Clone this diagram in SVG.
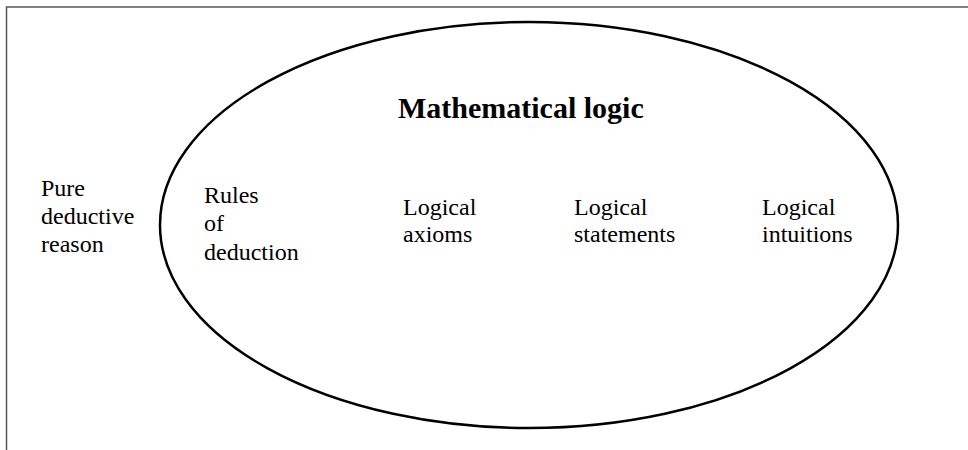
<svg xmlns="http://www.w3.org/2000/svg" width="968" height="450" viewBox="0 0 968 450">
<style>
.t{font-family:"Liberation Serif","Times New Roman",serif;font-size:24px;fill:#000}
.b{font-weight:bold;font-size:30px}
</style>
<rect width="968" height="450" fill="#fff"/>
<path d="M6.5,450 V7 H968" fill="none" stroke="#555" stroke-width="1.5"/>
<g id="mathematical-logic">
<ellipse cx="529" cy="225" rx="369" ry="203" fill="none" stroke="#000" stroke-width="2.5"/>
<text class="t b" x="398" y="118">Mathematical logic</text>
</g>
<g id="pure-deductive-reason">
<text class="t" x="41" y="196">Pure</text>
<text class="t" x="41" y="224">deductive</text>
<text class="t" x="41" y="252">reason</text>
</g>
<g id="rules-of-deduction">
<text class="t" x="204" y="203">Rules</text>
<text class="t" x="204" y="231">of</text>
<text class="t" x="204" y="260">deduction</text>
</g>
<g id="logical-axioms">
<text class="t" x="403" y="215">Logical</text>
<text class="t" x="403" y="242">axioms</text>
</g>
<g id="logical-statements">
<text class="t" x="574" y="215">Logical</text>
<text class="t" x="574" y="242">statements</text>
</g>
<g id="logical-intuitions">
<text class="t" x="762" y="215">Logical</text>
<text class="t" x="762" y="242">intuitions</text>
</g>
<g id="connectors"/>
</svg>
